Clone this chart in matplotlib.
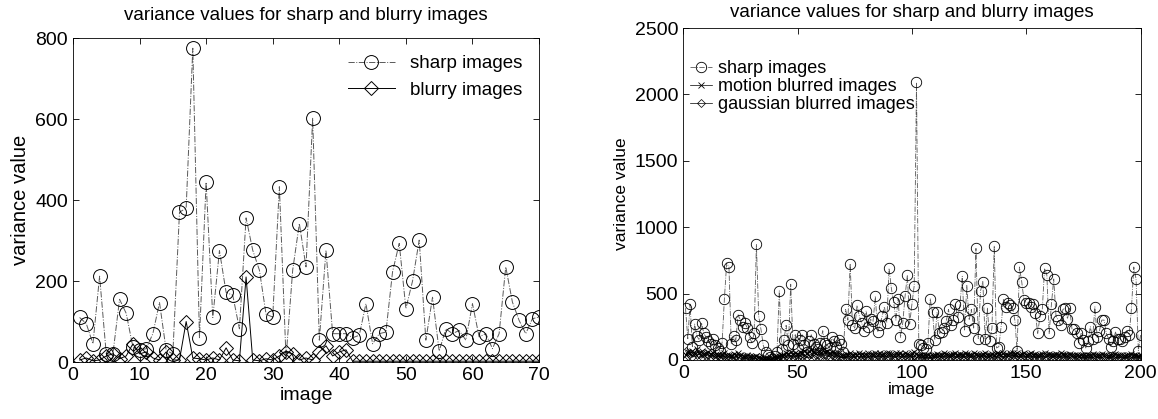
import numpy as np
import matplotlib
matplotlib.use("Agg")
import matplotlib.pyplot as plt

plt.rcParams['font.family'] = ['Liberation Sans', 'DejaVu Sans']

# left panel: 70 images
left_sharp = [110, 95, 45, 212, 20, 20, 155, 120, 37, 29,
              33, 70, 147, 29, 20, 370, 380, 775, 60, 444,
              110, 275, 172, 165, 82, 356, 276, 227, 118, 111,
              433, 10, 227, 342, 235, 602, 54, 276, 70, 70,
              70, 60, 66, 144, 45, 70, 74, 223, 293, 132,
              200, 301, 54, 160, 27, 82, 70, 78, 54, 144,
              62, 70, 33, 70, 235, 148, 103, 70, 107, 111]
left_blurry = [5, 10, 3, 5, 15, 20, 8, 15, 45, 20,
               25, 10, 5, 25, 5, 5, 100, 10, 8, 5,
               10, 5, 35, 5, 3, 210, 5, 3, 8, 5,
               15, 25, 20, 5, 10, 5, 25, 40, 15, 25,
               30, 2, 2, 2, 2, 2, 2, 2, 2, 2,
               2, 2, 2, 2, 2, 2, 2, 2, 2, 2,
               2, 2, 2, 2, 2, 2, 2, 2, 2, 2]

# right panel: 200 images
right_sharp = [390, 160, 420, 100, 270, 180, 150, 280, 200, 170,
               140, 120, 160, 110, 90, 70, 130, 460, 730, 700,
               120, 180, 150, 340, 300, 250, 280, 240, 170, 130,
               200, 870, 330, 230, 110, 60, 40, 20, 10, 30,
               60, 520, 80, 150, 260, 110, 570, 120, 190, 90,
               150, 190, 110, 60, 140, 190, 120, 100, 80, 130,
               220, 130, 110, 90, 170, 140, 100, 150, 120, 60,
               380, 300, 725, 260, 240, 410, 330, 280, 220, 370,
               250, 310, 290, 480, 210, 260, 330, 400, 280, 690,
               540, 440, 300, 460, 170, 280, 480, 640, 270, 420,
               560, 2090, 120, 110, 90, 80, 130, 460, 360, 150,
               360, 200, 210, 240, 290, 380, 260, 300, 420, 320,
               410, 630, 220, 560, 300, 380, 240, 840, 160, 520,
               590, 160, 390, 140, 240, 860, 90, 100, 250, 460,
               400, 430, 410, 390, 300, 70, 700, 590, 450, 430,
               430, 400, 420, 350, 200, 330, 380, 690, 640, 200,
               420, 610, 330, 300, 260, 380, 390, 310, 390, 230,
               230, 200, 130, 200, 150, 90, 140, 250, 160, 400,
               170, 220, 300, 300, 200, 160, 100, 140, 210, 160,
               160, 140, 170, 220, 190, 390, 700, 610, 70, 190]
right_motion = [40, 60, 55, 70, 45, 80, 50, 65, 40, 55,
                60, 45, 50, 35, 40, 30, 45, 50, 35, 40,
                30, 45, 35, 50, 40, 30, 25, 35, 30, 20,
                25, 30, 20, 15, 10, 5, 10, 5, 8, 15,
                20, 30, 40, 35, 50, 45, 60, 40, 55, 45,
                60, 50, 70, 55, 65, 75, 60, 80, 70, 65,
                75, 60, 70, 55, 60, 50, 45, 55, 40, 35,
                45, 40, 50, 35, 45, 40, 50, 45, 35, 40,
                50, 45, 40, 55, 45, 50, 40, 45, 55, 50,
                45, 40, 50, 45, 55, 40, 50, 45, 40, 50,
                60, 45, 35, 40, 30, 35, 40, 30, 35, 40,
                45, 35, 40, 50, 45, 40, 35, 45, 50, 40,
                45, 40, 50, 45, 35, 40, 50, 45, 40, 35,
                45, 50, 40, 35, 45, 40, 50, 45, 40, 50,
                45, 40, 50, 55, 45, 50, 40, 45, 50, 40,
                45, 50, 40, 45, 35, 40, 45, 50, 40, 45,
                40, 35, 45, 40, 50, 45, 40, 35, 45, 40,
                35, 40, 30, 35, 40, 30, 35, 40, 45, 35,
                40, 35, 45, 40, 35, 30, 40, 35, 45, 40,
                35, 40, 30, 35, 40, 45, 35, 40, 30, 35]
right_gauss = [70, 30, 50, 25, 60, 35, 45, 20, 55, 30,
               40, 25, 35, 20, 30, 25, 15, 30, 20, 25,
               15, 20, 30, 15, 25, 20, 10, 15, 20, 10,
               15, 10, 20, 8, 5, 3, 5, 2, 5, 10,
               15, 20, 25, 15, 30, 20, 35, 25, 30, 20,
               35, 30, 40, 25, 35, 45, 30, 40, 35, 30,
               40, 35, 30, 25, 35, 30, 20, 25, 20, 15,
               25, 20, 30, 20, 25, 30, 20, 25, 30, 20,
               25, 30, 20, 25, 30, 25, 20, 30, 25, 20,
               30, 25, 20, 30, 25, 20, 30, 25, 20, 25,
               30, 20, 15, 20, 25, 20, 15, 20, 25, 15,
               20, 25, 20, 30, 25, 20, 25, 30, 20, 25,
               30, 20, 25, 30, 20, 25, 30, 20, 25, 20,
               25, 30, 20, 25, 20, 30, 25, 20, 30, 25,
               20, 25, 30, 35, 25, 30, 20, 25, 30, 20,
               25, 30, 20, 25, 20, 25, 30, 20, 25, 30,
               20, 25, 30, 20, 25, 20, 25, 30, 20, 25,
               20, 25, 20, 15, 20, 25, 20, 15, 20, 25,
               20, 15, 20, 25, 20, 15, 20, 25, 20, 15,
               20, 25, 15, 20, 25, 20, 15, 20, 25, 15]

title = 'variance values for sharp and blurry images'

fig = plt.figure(figsize=(11.58, 4.19), dpi=100)
ax1 = fig.add_axes([0.063, 0.136, 0.4025, 0.773])
ax2 = fig.add_axes([0.59, 0.141, 0.395, 0.792])

x1 = np.arange(1, len(left_sharp) + 1)
ax1.plot(x1, left_sharp, linestyle='-.', color='0.35', lw=0.7, marker='o',
         ms=10, mfc='none', mec='black', mew=0.7, label='sharp images')
ax1.plot(x1, left_blurry, linestyle='-', color='black', lw=0.7, marker='D',
         ms=7, mfc='none', mec='black', mew=0.7, label='blurry images')
ax1.set_xlim(0, 70)
ax1.set_ylim(0, 800)
ax1.set_xticks(range(0, 71, 10))
ax1.set_yticks(range(0, 801, 200))
ax1.set_title(title, fontsize=13.5, pad=13)
ax1.set_xlabel('image', fontsize=14, labelpad=2)
ax1.set_ylabel('variance value', fontsize=14.5)
ax1.legend(loc='upper right', frameon=False, fontsize=13.5, handlelength=2.5)

x2 = np.arange(1, len(right_sharp) + 1)
ax2.plot(x2, right_sharp, linestyle='-.', color='0.35', lw=0.6, marker='o',
         ms=7.5, mfc='none', mec='black', mew=0.6, label='sharp images')
ax2.plot(x2, right_motion, linestyle='-', color='black', lw=0.5, marker='x',
         ms=4, mec='black', mew=0.6, label='motion blurred images')
ax2.plot(x2, right_gauss, linestyle='-', color='black', lw=0.5, marker='D',
         ms=4.5, mfc='none', mec='black', mew=0.5, label='gaussian blurred images')
ax2.set_xlim(0, 200)
ax2.set_ylim(0, 2500)
ax2.set_xticks(range(0, 201, 50))
ax2.set_yticks(range(0, 2501, 500))
ax2.set_title(title, fontsize=13.5, pad=8)
ax2.set_xlabel('image', fontsize=12.5, labelpad=0)
ax2.set_ylabel('variance value', fontsize=12.5)
ax2.legend(loc='upper left', bbox_to_anchor=(0.0, 0.925), frameon=False,
           fontsize=13, handlelength=1.2, handletextpad=0.3,
           labelspacing=0.05, borderaxespad=0.2, borderpad=0.2)

for ax in (ax1, ax2):
    ax.tick_params(direction='in', top=True, right=True, labelsize=14,
                   length=4, width=0.6)
    for s in ax.spines.values():
        s.set_linewidth(0.6)

fig.savefig('out.png', dpi=100)
